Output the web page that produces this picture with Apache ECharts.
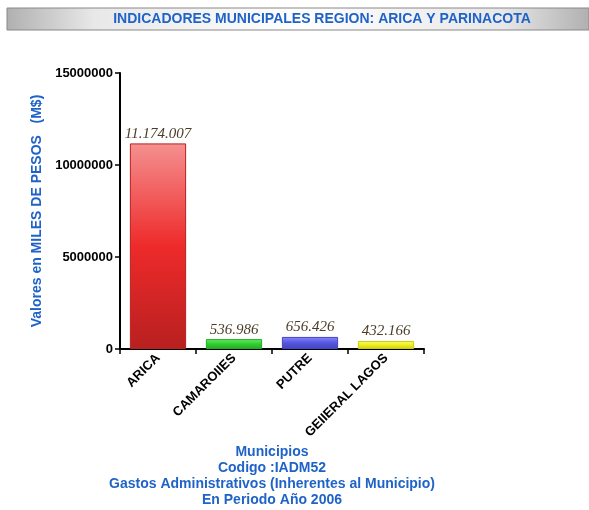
<!DOCTYPE html>
<html>
<head>
<meta charset="utf-8">
<script src="https://cdn.jsdelivr.net/npm/echarts@6/dist/echarts.min.js"></script>
<style>
  html, body { margin: 0; padding: 0; background: #fff; }
  #main { width: 589px; height: 510px; }
</style>
</head>
<body>
<div id="main"></div>
<script>
var municipios = ['ARICA', 'CAMAROIIES', 'PUTRE', 'GEIIERAL LAGOS'];
var gastos = [11174007, 536986, 656426, 432166];
var barColors = [
  ['#f59090', '#ee2a2a', '#b82020'],
  ['#66ee66', '#33cc33', '#22aa22'],
  ['#8888ff', '#5555e0', '#4444c0'],
  ['#ffff66', '#eeee22', '#cccc11']
];
var yTicks = [0, 5000000, 10000000, 15000000];

function fmt(v) {
  return String(v).replace(/\B(?=(\d{3})+(?!\d))/g, '.');
}

var chartDom = document.getElementById('main');
var myChart = echarts.init(chartDom);
var option;

option = {
  backgroundColor: '#fff',
  animation: false,
  graphic: [
    {
      type: 'rect',
      shape: { x: 7, y: 8, width: 582, height: 22 },
      style: {
        fill: new echarts.graphic.LinearGradient(0, 0, 1, 0, [
          { offset: 0, color: '#b0b0b0' },
          { offset: 0.15, color: '#e8e8e8' },
          { offset: 0.5, color: '#ffffff' },
          { offset: 0.85, color: '#e8e8e8' },
          { offset: 1, color: '#b0b0b0' }
        ]),
        stroke: '#888',
        lineWidth: 1
      }
    },
    {
      type: 'text',
      style: {
        x: 322,
        y: 19,
        text: 'INDICADORES MUNICIPALES REGION: ARICA Y PARINACOTA',
        fill: '#1f63c8',
        font: 'bold 14px "Liberation Sans", Arial, sans-serif',
        textAlign: 'center',
        textVerticalAlign: 'middle'
      }
    },
    {
      type: 'text',
      style: {
        x: 272,
        y: 444,
        text: 'Municipios\nCodigo :IADM52\nGastos Administrativos (Inherentes al Municipio)\nEn Periodo Año 2006',
        fill: '#1f63c8',
        font: 'bold 14px "Liberation Sans", Arial, sans-serif',
        lineHeight: 16,
        textAlign: 'center'
      }
    }
  ],
  grid: {
    left: 120,
    right: 165,
    top: 73,
    bottom: 161,
    containLabel: false
  },
  xAxis: {
    type: 'category',
    data: municipios,
    axisLine: { lineStyle: { color: '#000', width: 2 } },
    axisTick: { show: true, length: 5, lineStyle: { color: '#000', width: 1.5 } },
    axisLabel: {
      rotate: 45,
      color: '#000',
      fontWeight: 'bold',
      fontSize: 13,
      fontFamily: '"Liberation Sans", Arial, sans-serif',
      margin: 7
    }
  },
  yAxis: {
    type: 'value',
    min: 0,
    max: 15000000,
    interval: 5000000,
    name: 'Valores en MILES DE PESOS   (M$)',
    nameLocation: 'middle',
    nameGap: 76,
    nameTextStyle: {
      color: '#1f63c8',
      fontWeight: 'bold',
      fontSize: 14,
      fontFamily: '"Liberation Sans", Arial, sans-serif'
    },
    axisLine: { show: true, lineStyle: { color: '#000', width: 2 } },
    axisTick: { show: true, length: 5, lineStyle: { color: '#000', width: 1.5 } },
    splitLine: { show: false },
    axisLabel: {
      color: '#000',
      fontWeight: 'bold',
      fontSize: 13,
      fontFamily: '"Liberation Sans", Arial, sans-serif',
      margin: 7,
      formatter: function (v) { return yTicks.indexOf(v) >= 0 ? String(v) : ''; }
    }
  },
  series: [
    {
      type: 'bar',
      barWidth: '74%',
      data: gastos.map(function (v, i) {
        var c = barColors[i];
        return {
          value: v,
          itemStyle: {
            color: new echarts.graphic.LinearGradient(0, 0, 0, 1, [
              { offset: 0, color: c[0] },
              { offset: 0.5, color: c[1] },
              { offset: 1, color: c[2] }
            ]),
            borderColor: c[2],
            borderWidth: 1
          }
        };
      }),
      label: {
        show: true,
        position: 'top',
        distance: 2,
        color: '#4a3e28',
        fontStyle: 'italic',
        fontSize: 15,
        fontFamily: '"Liberation Serif", "Times New Roman", serif',
        formatter: function (p) { return fmt(p.value); }
      }
    }
  ]
};

option && myChart.setOption(option);
</script>
</body>
</html>
